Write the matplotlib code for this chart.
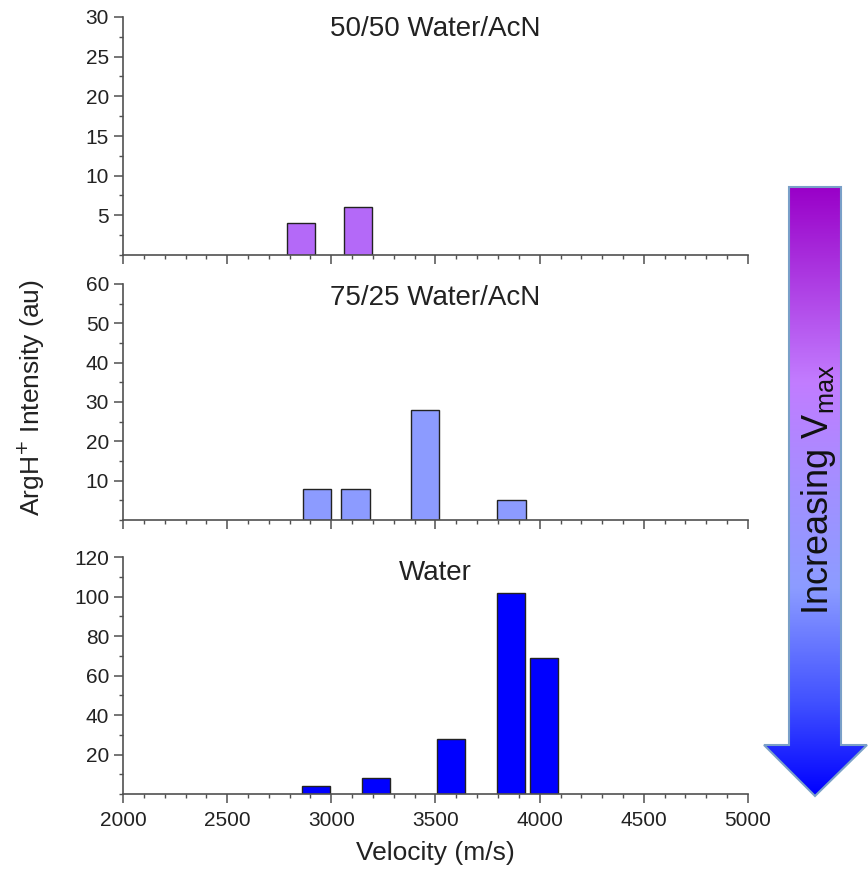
import numpy as np
import matplotlib
matplotlib.use('Agg')
import matplotlib.pyplot as plt
from matplotlib.colors import LinearSegmentedColormap
from matplotlib.patches import Polygon
from matplotlib.ticker import MultipleLocator

plt.rcParams['font.family'] = ['Liberation Sans', 'DejaVu Sans']

# Données (centres des classes en m/s, intensités)
v_5050 = [2855, 3128]
i_5050 = [4, 6]
v_7525 = [2930, 3116, 3450, 3865]
i_7525 = [8, 8, 28, 5]
v_water = [2925, 3215, 3575, 3862, 4020]
i_water = [4, 8, 28, 102, 69]
titles = ['50/50 Water/AcN', '75/25 Water/AcN', 'Water']

W, H = 868, 871
fig = plt.figure(figsize=(W / 100, H / 100), dpi=100)

axis_col = '#505050'


def px_axes(x0, y_top, x1, y_bot):
    """Crée un axe à partir de coordonnées pixels (origine en haut à gauche)."""
    return fig.add_axes([x0 / W, 1 - y_bot / H, (x1 - x0) / W, (y_bot - y_top) / H])


panels = [
    (px_axes(123, 17, 748, 255), v_5050, i_5050, '#b469f8', 30, 5, 2.5, 1.003),
    (px_axes(123, 284, 748, 520), v_7525, i_7525, '#8c9bff', 60, 10, 5, 0.995),
    (px_axes(123, 557, 748, 794), v_water, i_water, '#0000ff', 120, 20, 10, 0.986),
]

for k, (ax, v, inten, col, ymax, major, minor, ty) in enumerate(panels):
    ax.bar(v, inten, width=135, color=col, edgecolor='#222222', linewidth=1.0)
    ax.set_xlim(2000, 5000)
    ax.set_ylim(0, ymax)
    ax.set_yticks(np.arange(major, ymax + 1, major))
    ax.yaxis.set_minor_locator(MultipleLocator(minor))
    ax.xaxis.set_major_locator(MultipleLocator(500))
    ax.xaxis.set_minor_locator(MultipleLocator(100))
    for s in ['top', 'right']:
        ax.spines[s].set_visible(False)
    for s in ['left', 'bottom']:
        ax.spines[s].set_color(axis_col)
        ax.spines[s].set_linewidth(1.2)
    ax.tick_params(which='major', direction='out', length=6.5, width=1.1,
                   color=axis_col, labelsize=15, labelcolor='#222222')
    ax.tick_params(axis='x', which='major', pad=6)
    ax.tick_params(which='minor', direction='out', length=3, width=1.0, color=axis_col)
    if k < 2:
        ax.tick_params(axis='x', labelbottom=False)
    ax.text(0.5, ty, titles[k], transform=ax.transAxes,
            ha='center', va='top', fontsize=20, color='#222222')

panels[2][0].set_xlabel('Velocity (m/s)', fontsize=19, color='#222222', labelpad=8)
fig.text(31 / W, 1 - 398 / H, r'ArgH$^{+}$ Intensity (au)', rotation=90,
         ha='center', va='center', fontsize=19, color='#222222')

# Flèche en dégradé "Increasing Vmax"
ov = fig.add_axes([0, 0, 1, 1])
ov.set_xlim(0, W)
ov.set_ylim(H, 0)
ov.axis('off')
cmap = LinearSegmentedColormap.from_list(
    'vmax', [(0.0, '#9900c8'), (0.32, '#c27cff'), (0.5, '#a290ff'),
             (0.66, '#8c9cff'), (0.85, '#4050ff'), (1.0, '#0000ff')])
grad = np.linspace(0, 1, 256).reshape(-1, 1)
arrow_pts = [(789, 187), (841, 187), (841, 745), (867, 745),
             (815, 796), (764, 745), (789, 745)]
img = ov.imshow(grad, cmap=cmap, aspect='auto', extent=(764, 867, 796, 187))
poly = Polygon(arrow_pts, closed=True, facecolor='none', edgecolor='#7aa0c8', linewidth=1.5)
ov.add_patch(poly)
img.set_clip_path(poly)
ov.text(818, 490, r'Increasing V$_{\mathregular{max}}$', rotation=90,
        ha='center', va='center', fontsize=26, color='#111111')

fig.savefig('out.png', dpi=100)
